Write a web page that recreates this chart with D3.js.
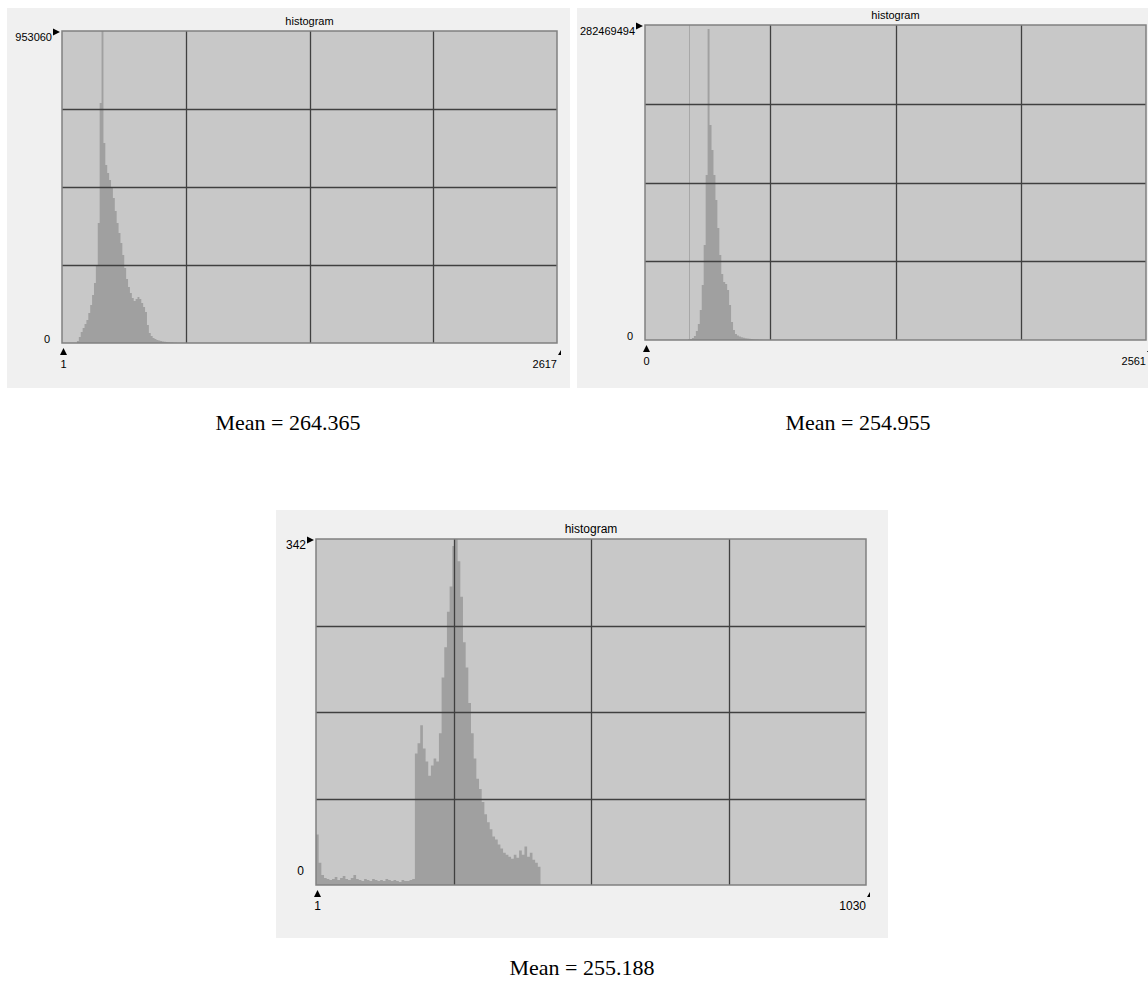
<!DOCTYPE html>
<html>
<head>
<meta charset="utf-8">
<script src="https://cdn.jsdelivr.net/npm/d3@7"></script>
<style>
  body { margin: 0; background: #fff; }
</style>
</head>
<body>
<div id="vis"></div>
<script>
var w = 1148;
var h = 983;

// Histogram 1 (bins of 10 starting at 80)
var hist1Start = 80, hist1Step = 10;
var hist1Counts = [6100, 18300, 33600, 45800, 58000, 70300, 91700, 116100, 146600, 183300,
  238300, 366600, 733200, 953060, 611000, 543800, 519400, 498000, 473500, 443000,
  403300, 366600, 336000, 305500, 268800, 229100, 195500, 171100, 152800, 137500,
  128300, 134400, 140500, 134400, 122200, 110000, 94700, 55000, 30600, 21400,
  15300, 12200, 9200, 7600, 6100, 4600, 3700, 3100, 2400, 1800, 1200, 900, 600];
var hist1Domain = [1, 2617];
var hist1Max = 953060;
var hist1Mean = "264.365";

// Histogram 2 (bins of 10 starting at 220) plus a one-value spike
var hist2Start = 220, hist2Step = 10;
var hist2Counts = [448000, 897000, 1793000, 3587000, 8070000, 14347000, 26901000, 49319000,
  85187000, 147956000, 278874000, 192791000, 170373000, 147956000, 125538000, 100430000,
  76220000, 59182000, 52009000, 50215000, 44835000, 31385000, 16141000, 8967000,
  5380000, 4035000, 3138000, 2511000, 1973000, 1614000, 1345000, 1076000, 897000,
  717000, 538000, 359000, 269000, 179000];
var hist2Spike = { value: 226, count: 282469494 };
var hist2Domain = [0, 2561];
var hist2Max = 282469494;
var hist2Mean = "254.955";

// Histogram 3 (bins of 5 starting at 1)
var hist3Start = 1, hist3Step = 5;
var hist3Counts = [50, 22, 10, 7, 6, 5, 6, 8, 5, 7, 9, 6, 5, 7, 10, 6, 5, 4, 6, 5,
  4, 6, 5, 4, 5, 4, 6, 5, 4, 5, 4, 3, 5, 4, 4, 5, 6, 130, 140, 158,
  135, 122, 108, 118, 125, 122, 150, 205, 235, 270, 295, 335, 342, 320, 285, 240,
  215, 180, 150, 125, 105, 95, 82, 70, 62, 55, 48, 45, 40, 36, 32, 30, 28, 26,
  30, 27, 34, 30, 38, 28, 32, 25, 22, 18, 0];
var hist3Domain = [1, 1030];
var hist3Max = 342;
var hist3Mean = "255.188";

var titleText = "histogram";

var panels = [
  { counts: hist1Counts, start: hist1Start, step: hist1Step, domain: hist1Domain, max: hist1Max, mean: hist1Mean,
    bg: [7, 8, 563, 380], plot: [62, 31, 557, 343], meanX: 288, meanY: 430, font: 11, zeroDy: 0 },
  { counts: hist2Counts, start: hist2Start, step: hist2Step, domain: hist2Domain, max: hist2Max, mean: hist2Mean,
    spike: hist2Spike, bg: [577, 8, 571, 380], plot: [645, 25, 1146, 340], meanX: 858, meanY: 430, font: 11, zeroDy: 0 },
  { counts: hist3Counts, start: hist3Start, step: hist3Step, domain: hist3Domain, max: hist3Max, mean: hist3Mean,
    bg: [276, 510, 612, 428], plot: [316, 539, 866, 885], meanX: 582, meanY: 975, font: 12, zeroDy: -10 }
];

var svg = d3.select("#vis").append("svg")
  .attr("width", w)
  .attr("height", h)
  .style("background-color", "white");

function drawPanel(p) {
  var g = svg.append("g");
  var left = p.plot[0], top = p.plot[1], right = p.plot[2], bottom = p.plot[3];

  // panel background
  g.append("rect")
    .attr("x", p.bg[0]).attr("y", p.bg[1])
    .attr("width", p.bg[2]).attr("height", p.bg[3])
    .attr("fill", "#f0f0f0");

  var xScale = d3.scaleLinear().domain(p.domain).range([left, right]);
  var yScale = d3.scaleLinear().domain([0, p.max]).range([bottom, top]);

  // plot area
  g.append("rect")
    .attr("x", left).attr("y", top)
    .attr("width", right - left).attr("height", bottom - top)
    .attr("fill", "#c8c8c8");

  // histogram as a stepped area
  var bins = p.counts.map(function(c, i) { return { v: p.start + i * p.step, c: c }; });
  bins.push({ v: p.start + p.counts.length * p.step, c: 0 });
  var area = d3.area()
    .curve(d3.curveStepAfter)
    .x(function(d) { return xScale(d.v); })
    .y0(bottom)
    .y1(function(d) { return yScale(d.c); });
  g.append("path")
    .datum(bins)
    .attr("d", area)
    .attr("fill", "#a0a0a0");

  if (p.spike) {
    g.append("rect")
      .attr("x", Math.round(xScale(p.spike.value)))
      .attr("y", yScale(p.spike.count))
      .attr("width", 1)
      .attr("height", bottom - yScale(p.spike.count))
      .attr("fill", "#a8a8a8");
  }

  // grid 4 x 4
  var d0 = p.domain[0], d1 = p.domain[1];
  [1, 2, 3].forEach(function(i) {
    var gx = Math.round(xScale(d0 + i * (d1 - d0) / 4)) + 0.5;
    g.append("line")
      .attr("x1", gx).attr("x2", gx)
      .attr("y1", top).attr("y2", bottom)
      .attr("stroke", "#404040")
      .attr("stroke-width", 1.3);
    var gy = Math.round(yScale(i * p.max / 4)) + 0.5;
    g.append("line")
      .attr("x1", left).attr("x2", right)
      .attr("y1", gy).attr("y2", gy)
      .attr("stroke", "#404040")
      .attr("stroke-width", 1.3);
  });

  // border
  g.append("rect")
    .attr("x", left).attr("y", top)
    .attr("width", right - left).attr("height", bottom - top)
    .attr("fill", "none")
    .attr("stroke", "#808080")
    .attr("stroke-width", 1.5);

  var font = "Liberation Sans, Arial, sans-serif";

  g.append("text")
    .attr("x", (left + right) / 2).attr("y", top - 6)
    .attr("text-anchor", "middle")
    .attr("font-family", font).attr("font-size", p.font)
    .attr("fill", "#000")
    .text(titleText);

  // y max marker and label
  var ty = yScale(p.max) + 1;
  g.append("path")
    .attr("d", "M" + (left - 9) + "," + (ty - 3.5) + "L" + (left - 2) + "," + ty + "L" + (left - 9) + "," + (ty + 3.5) + "Z")
    .attr("fill", "#000");
  g.append("text")
    .attr("x", left - 10).attr("y", top + 10)
    .attr("text-anchor", "end")
    .attr("font-family", font).attr("font-size", p.font)
    .text(p.max);

  g.append("text")
    .attr("x", left - 12).attr("y", yScale(0) + p.zeroDy)
    .attr("text-anchor", "end")
    .attr("font-family", font).attr("font-size", p.font)
    .text(0);

  // x min marker and label
  var tx = xScale(p.domain[0]) + 1.5;
  g.append("path")
    .attr("d", "M" + (tx - 3.5) + "," + (bottom + 12) + "L" + tx + "," + (bottom + 5) + "L" + (tx + 3.5) + "," + (bottom + 12) + "Z")
    .attr("fill", "#000");
  g.append("text")
    .attr("x", tx).attr("y", bottom + 25)
    .attr("text-anchor", "middle")
    .attr("font-family", font).attr("font-size", p.font)
    .text(p.domain[0]);

  // x max marker and label
  var rx = xScale(p.domain[1]) + 4;
  g.append("path")
    .attr("d", "M" + rx + "," + (bottom + 7) + "L" + rx + "," + (bottom + 12) + "L" + (rx - 3) + "," + (bottom + 12) + "Z")
    .attr("fill", "#000");
  g.append("text")
    .attr("x", xScale(p.domain[1])).attr("y", bottom + 25)
    .attr("text-anchor", "end")
    .attr("font-family", font).attr("font-size", p.font)
    .text(p.domain[1]);

  // mean caption
  svg.append("text")
    .attr("x", p.meanX).attr("y", p.meanY)
    .attr("text-anchor", "middle")
    .attr("font-family", "Liberation Serif, Times New Roman, serif")
    .attr("font-size", 22)
    .text("Mean = " + p.mean);
}

panels.forEach(drawPanel);
</script>
</body>
</html>
